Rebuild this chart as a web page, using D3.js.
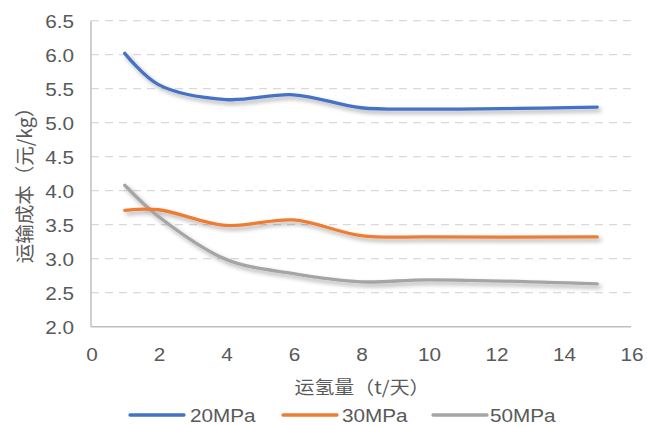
<!DOCTYPE html>
<html>
<head>
<meta charset="utf-8">
<script src="https://cdn.jsdelivr.net/npm/d3@7"></script>
<style>
  html, body { margin: 0; padding: 0; background: #fff; }
  svg { display: block; font-family: "Liberation Sans", Arial, sans-serif; }
</style>
</head>
<body>
<svg id="chart" width="647" height="426"></svg>
<script>
// Transport volume (t/day) and transport cost (yuan/kg) per storage pressure
const volume   = [1, 2, 4, 6, 8, 10, 15];
const cost20   = [6.02, 5.56, 5.34, 5.41, 5.22, 5.20, 5.23];
const cost30   = [3.71, 3.72, 3.49, 3.57, 3.34, 3.32, 3.32];
const cost50   = [4.08, 3.62, 2.99, 2.78, 2.66, 2.69, 2.63];
const seriesNames  = ["20MPa", "30MPa", "50MPa"];
const seriesColors = ["#4472C4", "#ED7D31", "#A5A5A5"];
const xTicks = [0, 2, 4, 6, 8, 10, 12, 14, 16];
const yTicks = [2.0, 2.5, 3.0, 3.5, 4.0, 4.5, 5.0, 5.5, 6.0, 6.5];
const xTitle = "运氢量（t/天）";
const yTitle = "运输成本（元/kg）";

const series = [cost20, cost30, cost50].map((vals, i) => ({
  name: seriesNames[i],
  color: seriesColors[i],
  points: vals.map((v, j) => [volume[j], v])
}));

const svg = d3.select("#chart");
const plot = { left: 91, right: 631, top: 20.7, bottom: 326.7 };
const x = d3.scaleLinear().domain([0, 16]).range([plot.left, plot.right]);
const y = d3.scaleLinear().domain([2.0, 6.5]).range([plot.bottom, plot.top]);
const textColor = "#595959";
const stretch = 1.12;

// soft drop shadow under the lines
const defs = svg.append("defs");
const f = defs.append("filter").attr("id", "shadow")
  .attr("x", "-10%").attr("y", "-20%").attr("width", "130%").attr("height", "160%");
f.append("feDropShadow").attr("dx", 2.5).attr("dy", 3).attr("stdDeviation", 2.2)
  .attr("flood-color", "#000").attr("flood-opacity", 0.32);

// dashed horizontal gridlines
svg.append("g").selectAll("line")
  .data(yTicks.filter(t => t > 2.0))
  .join("line")
  .attr("x1", plot.left).attr("x2", plot.right)
  .attr("y1", d => y(d)).attr("y2", d => y(d))
  .attr("stroke", "#D9D9D9").attr("stroke-width", 1.3)
  .attr("stroke-dasharray", "8,6");

// axis lines
svg.append("line")
  .attr("x1", plot.left).attr("x2", plot.left)
  .attr("y1", plot.top).attr("y2", plot.bottom)
  .attr("stroke", "#BFBFBF").attr("stroke-width", 1.5);
svg.append("line")
  .attr("x1", plot.left).attr("x2", plot.right)
  .attr("y1", plot.bottom).attr("y2", plot.bottom)
  .attr("stroke", "#BFBFBF").attr("stroke-width", 1.5);

// tick labels (slightly widened glyphs)
function label(g, px, py, txt, anchor, size) {
  g.append("g").attr("transform", `translate(${px},${py}) scale(${stretch},1)`)
    .append("text")
    .attr("text-anchor", anchor)
    .attr("dominant-baseline", "central")
    .attr("font-size", size)
    .attr("fill", textColor)
    .text(txt);
}
const yLab = svg.append("g");
yTicks.forEach(t => label(yLab, 74, y(t) + 1, d3.format(".1f")(t), "end", 18.5));
const xLab = svg.append("g");
xTicks.forEach(t => label(xLab, x(t) + 1, 354, String(t), "middle", 18.5));

// axis titles
svg.append("g").attr("transform", `translate(${x(8) + 1},386) scale(${stretch},1)`)
  .append("text")
  .attr("text-anchor", "middle").attr("dominant-baseline", "central")
  .attr("font-size", 17.8).attr("fill", textColor)
  .attr("font-family", "'Noto Sans CJK SC', sans-serif")
  .text(xTitle);
svg.append("g").attr("transform", `translate(23,${(97 + 264) / 2}) rotate(-90)`)
  .append("text")
  .attr("text-anchor", "middle").attr("dominant-baseline", "central")
  .attr("font-size", 19.5).attr("fill", textColor)
  .attr("font-family", "'Noto Sans CJK SC', sans-serif")
  .text(yTitle);

// smoothed series lines
const line = d3.line()
  .x(d => x(d[0])).y(d => y(d[1]))
  .curve(d3.curveCatmullRom.alpha(0.5));
svg.append("g").attr("filter", "url(#shadow)")
  .selectAll("path")
  .data(series.slice().reverse())
  .join("path")
  .attr("d", d => line(d.points))
  .attr("fill", "none")
  .attr("stroke", d => d.color)
  .attr("stroke-width", 3.3)
  .attr("stroke-linecap", "round")
  .attr("stroke-linejoin", "round");

// legend
const legendItems = [
  { lx: 130, tx: 190 },
  { lx: 283, tx: 342 },
  { lx: 433, tx: 490 }
];
const legend = svg.append("g");
series.forEach((s, i) => {
  const it = legendItems[i];
  legend.append("line")
    .attr("x1", it.lx).attr("x2", it.lx + 54)
    .attr("y1", 415).attr("y2", 415)
    .attr("stroke", s.color).attr("stroke-width", 3.3)
    .attr("stroke-linecap", "round");
  label(legend, it.tx, 415, s.name, "start", 18.5);
});
</script>
</body>
</html>
